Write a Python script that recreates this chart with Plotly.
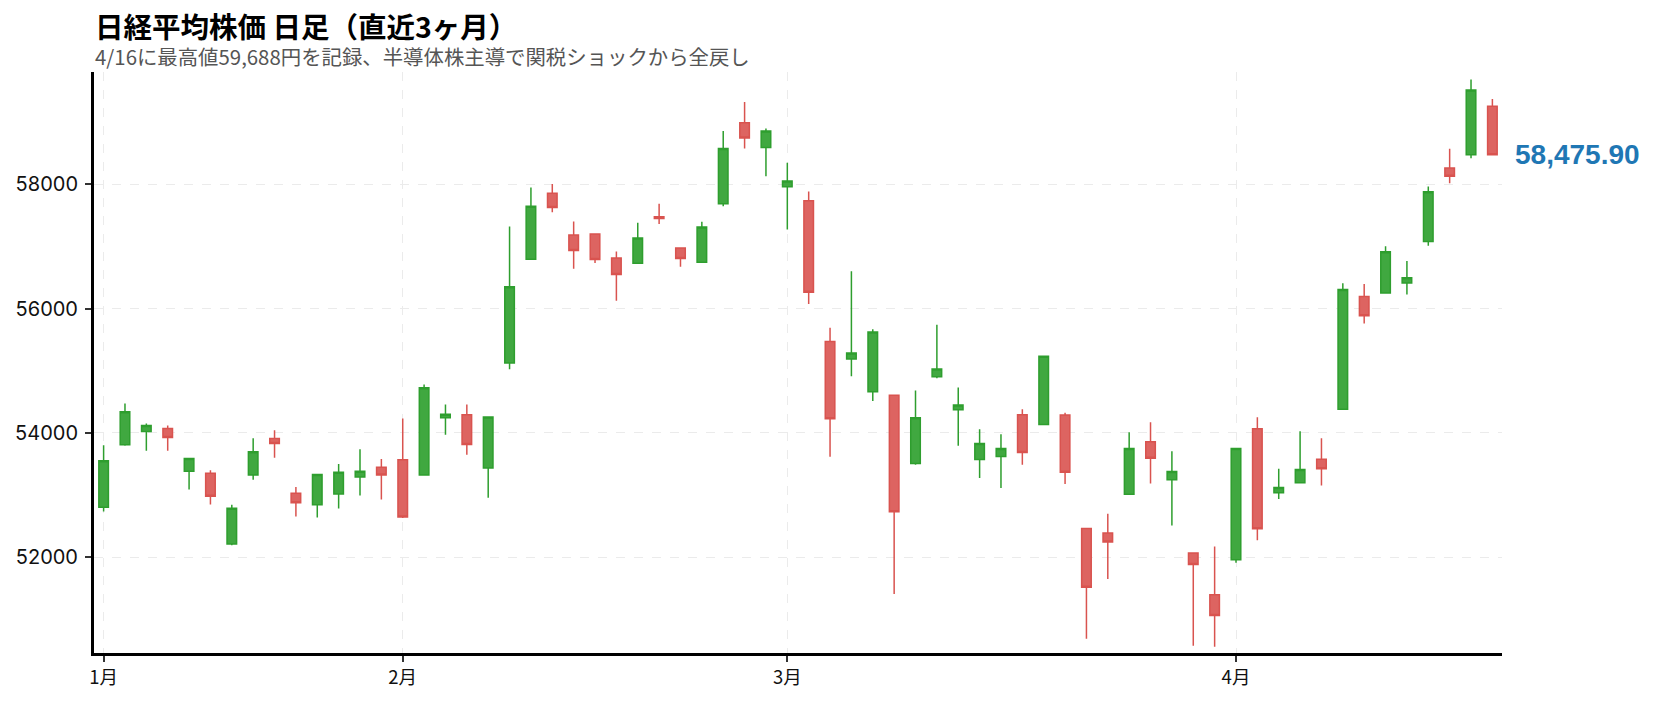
import plotly.graph_objects as go

dates = (
    ["2026-01-%02d" % d for d in [13, 14, 15, 16, 19, 20, 21, 22, 23, 26, 27, 28, 29, 30]]
    + ["2026-02-%02d" % d for d in [2, 3, 4, 5, 6, 9, 10, 12, 13, 16, 17, 18, 19, 20, 24, 25, 26, 27]]
    + ["2026-03-%02d" % d for d in [2, 3, 4, 5, 6, 9, 10, 11, 12, 13, 16, 17, 18, 19, 23, 24, 25, 26, 27, 30, 31]]
    + ["2026-04-%02d" % d for d in [1, 2, 3, 6, 7, 8, 9, 10, 13, 14, 15, 16, 17]]
)

open_ = [52806, 53808, 54022, 54070, 53382, 53350, 52213, 53323, 53910, 53030,
         52843, 53019, 53291, 53446, 53570, 53323, 54246, 54294, 53435, 55126,
         56795, 57856, 57184, 57200, 56816, 56731, 57478, 56976, 56747, 57686,
         58992, 58593, 57963, 57734, 55472, 55190, 54662, 54608, 53510, 54902,
         54374, 53574, 53622, 54294, 54134, 54288, 52464, 52390, 53014, 53858,
         53245, 52069, 51397, 51960, 54068, 53037, 53197, 53576, 54382, 56194,
         56253, 56413, 57082, 58261, 58474, 59255]
high = [53803, 54475, 54150, 54118, 53595, 53398, 52843, 53915, 54043, 53131,
        53335, 53499, 53739, 53579, 54233, 54779, 54459, 54459, 54262, 57323,
        57947, 58006, 57403, 57205, 56918, 57382, 57686, 56980, 57398, 58859,
        59323, 58900, 58347, 57883, 55691, 56603, 55670, 54612, 54683, 55739,
        54731, 54059, 53979, 54379, 55235, 54326, 52470, 52699, 54010, 54170,
        53707, 52072, 52171, 53750, 54251, 53422, 54026, 53914, 56407, 56395,
        57005, 56768, 57964, 58574, 59688, 59374]
low = [52736, 53792, 53712, 53712, 53088, 52848, 52192, 53248, 53600, 52657,
       52641, 52785, 52992, 52928, 52630, 53310, 53969, 53649, 52958, 55025,
       56785, 57552, 56641, 56736, 56128, 56725, 57360, 56672, 56740, 57648,
       58576, 58128, 57275, 56075, 53616, 54912, 54512, 51408, 53488, 54880,
       53792, 53275, 53115, 53488, 54130, 53179, 50688, 51648, 53005, 53185,
       52510, 50576, 50560, 51912, 52273, 52937, 53190, 53156, 54378, 55761,
       56248, 56229, 57011, 58018, 58420, 58475.9]
close = [53552, 54342, 54118, 53926, 53590, 52982, 52789, 53696, 53830, 52875,
         53329, 53366, 53382, 53323, 52646, 54726, 54299, 53814, 54257, 56352,
         57648, 57627, 56934, 56790, 56550, 57136, 57451, 56806, 57312, 58576,
         58747, 58859, 58054, 56262, 54230, 55286, 55622, 52731, 54246, 55030,
         54448, 53830, 53750, 53686, 55232, 53366, 51515, 52246, 53748, 53594,
         53381, 51883, 51061, 53748, 52457, 53120, 53410, 53422, 56306, 55886,
         56916, 56496, 57882, 58130, 59516, 58475.9]

month_ticks = ["2026-01-13", "2026-02-02", "2026-03-02", "2026-04-01"]
month_labels = ["1月", "2月", "3月", "4月"]
y_ticks = [52000, 54000, 56000, 58000]

title_text = "日経平均株価 日足（直近3ヶ月）"
subtitle_text = "4/16に最高値59,688円を記録、半導体株主導で関税ショックから全戻し"
last_label = "58,475.90"

FONT = "Noto Sans CJK JP"

fig = go.Figure(go.Candlestick(
    x=dates, open=open_, high=high, low=low, close=close,
    increasing=dict(line=dict(color="#2e9e2e", width=1.5), fillcolor="#40a840"),
    decreasing=dict(line=dict(color="#d9534f", width=1.5), fillcolor="#dd6461"),
    whiskerwidth=0,
    showlegend=False,
    hoverinfo="skip",
))

ymin = min(low) * 0.998
ymax = max(high) * 1.002

header = (
    "<span style='font-size:28.5px;color:#000'><b>" + title_text + "</b></span>"
    "<br><span style='font-size:20.4px;color:#555'>" + subtitle_text + "</span>"
)

# page body has an 8px default margin, so the figure is sized to fit the window
fig.update_layout(
    width=1652, height=695,
    margin=dict(l=86, r=158, t=64, b=50, autoexpand=False),
    paper_bgcolor="white", plot_bgcolor="white",
    font=dict(family=FONT, size=18, color="#111"),
    boxgap=0.36,
    xaxis=dict(
        type="category", rangeslider=dict(visible=False), automargin=False,
        range=[-0.45, len(dates) - 0.55],
        tickmode="array", tickvals=month_ticks, ticktext=month_labels,
        showgrid=True, gridcolor="#ebebeb", griddash="dash", gridwidth=1,
        showline=True, linecolor="black", linewidth=3,
        ticks="outside", ticklen=6, tickwidth=2, tickcolor="#333",
        tickfont=dict(family=FONT, size=18.5, color="#111"),
        zeroline=False,
    ),
    yaxis=dict(
        range=[ymin, ymax], automargin=False,
        tickmode="array", tickvals=y_ticks,
        ticktext=[str(v) for v in y_ticks],
        showgrid=True, gridcolor="#ebebeb", griddash="dash", gridwidth=1,
        showline=True, linecolor="black", linewidth=3,
        ticks="outside", ticklen=6, tickwidth=2, tickcolor="#333",
        ticklabelstandoff=3,
        tickfont=dict(family="Inter", size=20, color="#111"),
        zeroline=False,
    ),
    annotations=[
        dict(text=header, xref="paper", yref="paper",
             x=0, y=1, xshift=-1, yshift=34, xanchor="left", yanchor="middle",
             align="left", showarrow=False,
             font=dict(family=FONT, size=21, color="#555")),
        dict(text="<b>" + last_label + "</b>", xref="paper", yref="y",
             x=1, y=close[-1], xshift=11, xanchor="left", yanchor="middle",
             showarrow=False, font=dict(family="Liberation Sans", size=28, color="#1f77b4")),
    ],
)

fig.write_html("out.html")
